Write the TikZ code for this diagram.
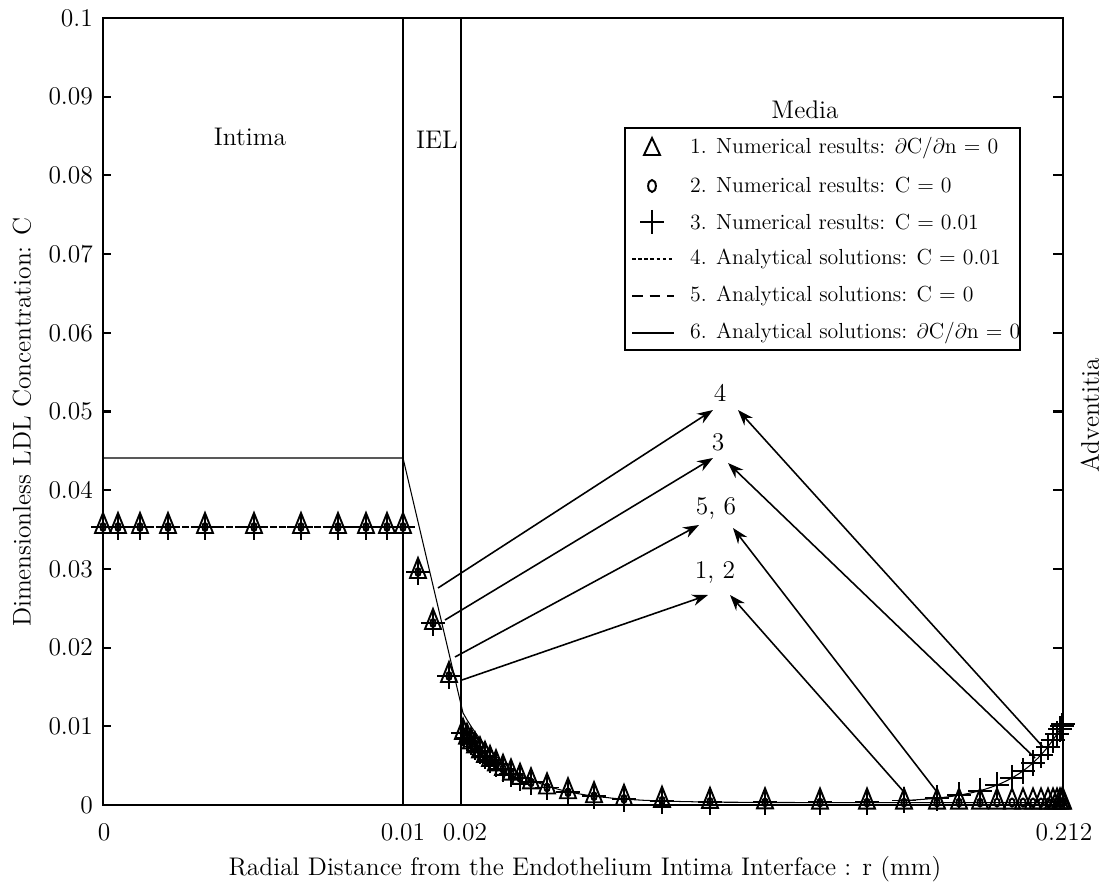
\documentclass[tikz,border=0pt]{standalone}
\usetikzlibrary{arrows.meta}
% one numerical point: triangle and circle at #2, plus at #3
\newcommand\numpt[3]{%
  \draw[mk] (#1-8,#2+6) -- (#1+8,#2+6) -- (#1,#2-14) -- cycle;
  \draw[mk] (#1,#2) ellipse (1.5pt and 2.3pt);
  \draw[mk] (#1-12,#3) -- (#1+12,#3) (#1,#3-13) -- (#1,#3+13);
}
\begin{document}
\begin{tikzpicture}[x=0.02cm,y=-0.02cm,
    every node/.style={font=\fontsize{14.5}{17}\selectfont,inner sep=1pt},
    legtext/.style={anchor=west,font=\fontsize{12.4}{15}\selectfont},
    frame/.style={line width=1.2pt},
    wall/.style={line width=0.8pt},
    curve/.style={line width=0.6pt},
    mk/.style={line width=1.1pt},
    arr/.style={line width=0.9pt,-{Stealth[length=9pt,width=6.5pt]}}]
\useasboundingbox (0,0) rectangle (1105,884);
%% axis
\draw[frame] (103,18) rectangle (1063,805);
\foreach \k in {1,...,9} {
  \draw[frame] (103,805-78.7*\k) -- ++(8,0);
  \draw[frame] (1063,805-78.7*\k) -- ++(-10,0);
}
\foreach \k/\lab in {0/0,1/0.01,2/0.02,3/0.03,4/0.04,5/0.05,6/0.06,7/0.07,8/0.08,9/0.09,10/0.1}
  \node[anchor=east] (ytick\k) at (95,805-78.7*\k) {\lab};
\node (xtick0) at (104,832) {0};
\node (xtick1) at (403,832) {0.01};
\node (xtick2) at (465,832) {0.02};
\node (xtick3) at (1064,832) {0.212};
\node (xlab) at (585,869) {Radial Distance from the Endothelium Intima Interface : r (mm)};
\node[rotate=90] (ylab) at (22,422) {Dimensionless LDL Concentration: C};
%% layers
\draw[wall] (403,18) -- (403,805);
\draw[wall] (461,18) -- (461,805);
\node (intima) at (250,137) {Intima};
\node (iel) at (437,140) {IEL};
\node (media) at (805,110) {Media};
\node[rotate=90] (advent) at (1090,415) {Adventitia};
%% analytical
\draw[curve] (103,458) -- (403,458) -- (463,713);
\draw[curve,dash pattern=on 4pt off 1pt] (103,527) -- (403,527);
\draw[curve] plot[domain=463:1063,samples=150] (\x,{805-7870*(0.0003+0.0114*exp(-(\x-463)/50))});
\draw[curve] plot[domain=900:1063,samples=60] (\x,{805-7870*(0.0003+0.0114*exp(-(\x-463)/50))-78.7*exp(-(1063-\x)/44)});
%% numerical
\foreach \x in {103,118,140,168,205,254,301,338,366,387,403}
  \numpt{\x}{527}{527};
\numpt{418}{572}{572}
\numpt{433}{623}{623}
\numpt{449}{676}{676}
\foreach \x in {463,467,471,475,480,485,490,496,503,511,520,531,547,568,594,624,662,710,765,820,867,904,937,959,980,997,1012,1023,1033,1041,1048,1053,1057,1060,1062,1063} {
  \pgfmathsetmacro\yt{805-7870*(0.0003+0.0092*exp(-(\x-461)/55))}
  \pgfmathsetmacro\yp{\yt-78.7*exp(-(1063-\x)/44)}
  \numpt{\x}{\yt}{\yp}
}
%% legend
\draw[wall] (625,128) rectangle (1020,350);
\draw[mk] (644,155) -- (660,155) -- (652,138) -- cycle;
\draw[mk] (652,186) ellipse (2.2pt and 3.4pt);
\draw[mk] (640,222) -- (664,222) (652,210) -- (652,234);
\draw[curve,dash pattern=on 2pt off 1.5pt] (632,259) -- (674,259);
\draw[curve,dash pattern=on 6pt off 4pt] (632,296) -- (674,296);
\draw[curve] (632,333) -- (674,333);
\node[legtext] (leg1) at (688,148) {1. Numerical results: $\partial$C/$\partial$n = 0};
\node[legtext] (leg2) at (688,185) {2. Numerical results: C = 0};
\node[legtext] (leg3) at (688,222) {3. Numerical results: C = 0.01};
\node[legtext] (leg4) at (688,259) {4. Analytical solutions: C = 0.01};
\node[legtext] (leg5) at (688,296) {5. Analytical solutions: C = 0};
\node[legtext] (leg6) at (688,333) {6. Analytical solutions: $\partial$C/$\partial$n = 0};
%% arrow labels
\node (lbl4) at (720,393) {4};
\node (lbl3) at (718,442) {3};
\node (lbl56) at (716,508) {5, 6};
\node (lbl12) at (715,572) {1, 2};
\coordinate (t4l) at (438,588);  \coordinate (h4l) at (713,410);
\coordinate (t3l) at (445,620);  \coordinate (h3l) at (713,458);
\coordinate (t56l) at (455,657); \coordinate (h56l) at (699,525);
\coordinate (t12l) at (462,680); \coordinate (h12l) at (708,595);
\coordinate (t4r) at (1043,747); \coordinate (h4r) at (738,410);
\coordinate (t3r) at (1035,758); \coordinate (h3r) at (728,463);
\coordinate (t56r) at (937,792); \coordinate (h56r) at (733,528);
\coordinate (t12r) at (904,792); \coordinate (h12r) at (730,595);
\foreach \a in {4,3,56,12} {
  \draw[arr] (t\a l) -- (h\a l);
  \draw[arr] (t\a r) -- (h\a r);
}
\end{tikzpicture}
\end{document}
